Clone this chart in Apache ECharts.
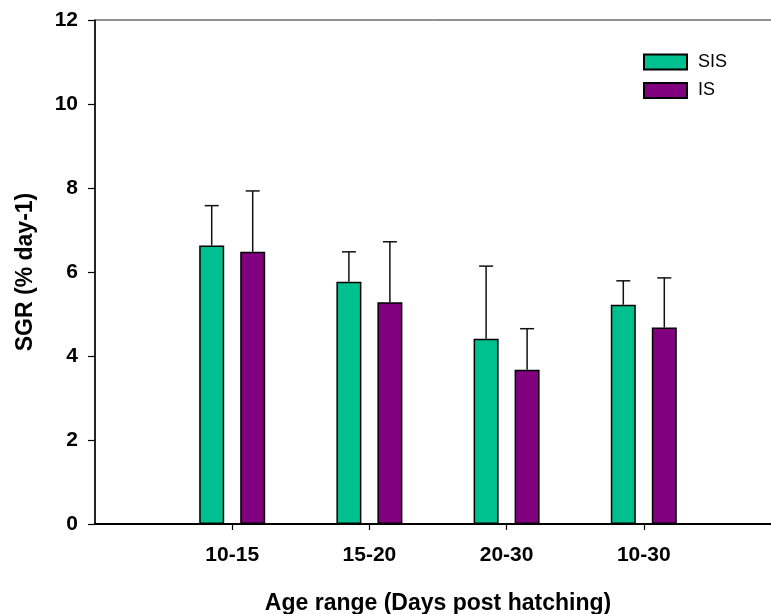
<!DOCTYPE html>
<html>
<head>
    <meta charset="utf-8">
    <title>SGR</title>
    <style>
        html, body { margin: 0; padding: 0; background: #fff; }
        #chart { width: 771px; height: 614px; }
    </style>
</head>
<body>
    <div id="chart"></div>
    <script src="https://cdn.jsdelivr.net/npm/echarts@6/dist/echarts.min.js"></script>
    <script>
        // data
        var categories = ['10-15', '15-20', '20-30', '10-30'];
        var sisMean = [6.63, 5.77, 4.41, 5.22];
        var sisErr = [0.95, 0.71, 1.73, 0.57];
        var isMean = [6.48, 5.28, 3.67, 4.68];
        var isErr = [1.45, 1.44, 0.98, 1.18];
        var yTicks = [0, 2, 4, 6, 8, 10, 12];

        var green = '#00c08f';
        var purple = '#800080';
        var fontFam = '"Liberation Sans", Arial, sans-serif';

        // empty slot each side so the bars sit where the original has them
        var axisCats = [''].concat(categories).concat(['']);
        function pad(arr) { return [null].concat(arr).concat([null]); }

        function errData(mean, err) {
            return mean.map(function (m, i) { return [i + 1, m, m + err[i]]; });
        }

        function errRender(offset) {
            return function (params, api) {
                var base = api.coord([api.value(0), api.value(1)]);
                var top = api.coord([api.value(0), api.value(2)]);
                var x = base[0] + offset;
                var st = { stroke: '#111', lineWidth: 1.5 };
                return {
                    type: 'group',
                    children: [
                        { type: 'line', shape: { x1: x, y1: base[1], x2: x, y2: top[1] }, style: st },
                        { type: 'line', shape: { x1: x - 7, y1: top[1], x2: x + 7, y2: top[1] }, style: st }
                    ]
                };
            };
        }

        var chart = echarts.init(document.getElementById('chart'));
        var option = {
            animation: false,
            textStyle: { fontFamily: fontFam },
            grid: {
                left: 95, width: 686, top: 20, height: 504,
                outerBoundsMode: 'none',
                containLabel: false,
                show: true, borderColor: '#222', borderWidth: 1, backgroundColor: 'transparent'
            },
            legend: {
                data: ['SIS', 'IS'],
                orient: 'vertical',
                left: 643, top: 53, padding: 0,
                icon: 'rect',
                itemWidth: 43, itemHeight: 15, itemGap: 10.5,
                textStyle: { fontSize: 18, color: '#000', fontFamily: fontFam, padding: [0, 0, 0, 6] }
            },
            xAxis: {
                type: 'category',
                data: axisCats,
                boundaryGap: false,
                name: 'Age range (Days post hatching)',
                nameLocation: 'middle',
                nameGap: 68,
                nameTextStyle: { fontSize: 23, fontWeight: 'bold', color: '#000' },
                axisLine: { lineStyle: { color: '#000', width: 2 } },
                axisTick: {
                    length: 6, inside: false,
                    interval: function (i) { return i > 0 && i < axisCats.length - 1; },
                    lineStyle: { color: '#000', width: 1.2 }
                },
                axisLabel: {
                    interval: 0, margin: 21,
                    fontSize: 21, fontWeight: 'bold', color: '#000'
                },
                splitLine: { show: false }
            },
            yAxis: {
                type: 'value',
                min: yTicks[0], max: yTicks[yTicks.length - 1], interval: 2,
                name: 'SGR (% day-1)',
                nameLocation: 'middle',
                nameRotate: 90,
                nameGap: 58,
                nameTextStyle: { fontSize: 23, fontWeight: 'bold', color: '#000' },
                axisLine: { show: true, lineStyle: { color: '#000', width: 1.5 } },
                axisTick: { show: true, length: 7, lineStyle: { color: '#000', width: 1.2 } },
                axisLabel: { margin: 17, fontSize: 21, fontWeight: 'bold', color: '#000' },
                splitLine: { show: false }
            },
            series: [
                {
                    name: 'SIS', type: 'bar',
                    data: pad(sisMean),
                    barWidth: 25, barGap: '64%',
                    itemStyle: { color: green, borderColor: '#000', borderWidth: 1.5 }
                },
                {
                    name: 'IS', type: 'bar',
                    data: pad(isMean),
                    barWidth: 25,
                    itemStyle: { color: purple, borderColor: '#000', borderWidth: 1.5 }
                },
                {
                    type: 'custom', z: 5,
                    data: errData(sisMean, sisErr),
                    encode: { x: 0, y: 1 },
                    renderItem: errRender(-20.5)
                },
                {
                    type: 'custom', z: 5,
                    data: errData(isMean, isErr),
                    encode: { x: 0, y: 1 },
                    renderItem: errRender(20.5)
                }
            ]
        };
        chart.setOption(option);
    </script>
</body>
</html>
